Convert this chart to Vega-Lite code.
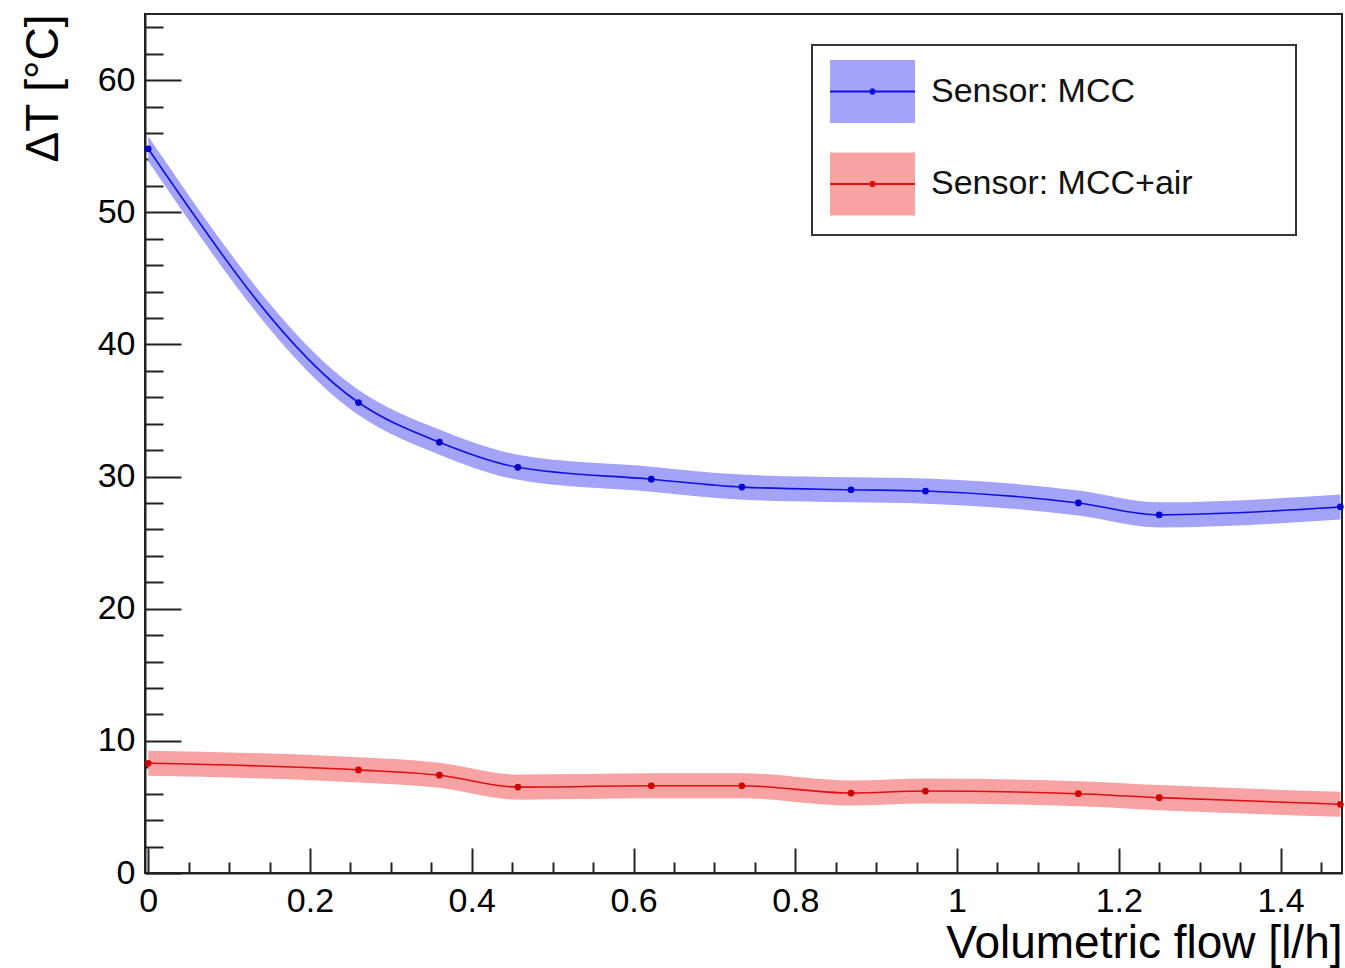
{
  "$schema": "https://vega.github.io/schema/vega-lite/v6.json",
  "autosize": {"type": "none"},
  "width": 1197,
  "height": 859,
  "padding": {"left": 145, "top": 14, "right": 3, "bottom": 95},
  "background": "white",
  "config": {
    "font": "Liberation Sans",
    "view": {"stroke": "#222", "strokeWidth": 2},
    "axis": {"labelFont": "Liberation Sans", "titleFont": "Liberation Sans", "labelColor": "#000", "titleColor": "#000", "tickColor": "#222", "domainColor": "#222", "grid": false},
    "legend": {"labelFont": "Liberation Sans", "strokeWidth": 2}
  },
  "data": {
    "values": [
      {"series": "Sensor: MCC", "flow": 0.0, "dt": 54.8, "lo": 53.85, "hi": 55.75},
      {"series": "Sensor: MCC", "flow": 0.26, "dt": 35.6, "lo": 34.65, "hi": 36.55},
      {"series": "Sensor: MCC", "flow": 0.36, "dt": 32.6, "lo": 31.65, "hi": 33.55},
      {"series": "Sensor: MCC", "flow": 0.457, "dt": 30.7, "lo": 29.75, "hi": 31.65},
      {"series": "Sensor: MCC", "flow": 0.622, "dt": 29.8, "lo": 28.85, "hi": 30.75},
      {"series": "Sensor: MCC", "flow": 0.734, "dt": 29.2, "lo": 28.25, "hi": 30.15},
      {"series": "Sensor: MCC", "flow": 0.869, "dt": 29.0, "lo": 28.05, "hi": 29.95},
      {"series": "Sensor: MCC", "flow": 0.961, "dt": 28.9, "lo": 27.95, "hi": 29.85},
      {"series": "Sensor: MCC", "flow": 1.15, "dt": 28.0, "lo": 27.05, "hi": 28.95},
      {"series": "Sensor: MCC", "flow": 1.25, "dt": 27.1, "lo": 26.15, "hi": 28.05},
      {"series": "Sensor: MCC", "flow": 1.474, "dt": 27.7, "lo": 26.75, "hi": 28.65},
      {"series": "Sensor: MCC+air", "flow": 0.0, "dt": 8.3, "lo": 7.35, "hi": 9.25},
      {"series": "Sensor: MCC+air", "flow": 0.26, "dt": 7.8, "lo": 6.85, "hi": 8.75},
      {"series": "Sensor: MCC+air", "flow": 0.36, "dt": 7.4, "lo": 6.45, "hi": 8.35},
      {"series": "Sensor: MCC+air", "flow": 0.457, "dt": 6.5, "lo": 5.55, "hi": 7.45},
      {"series": "Sensor: MCC+air", "flow": 0.622, "dt": 6.6, "lo": 5.65, "hi": 7.55},
      {"series": "Sensor: MCC+air", "flow": 0.734, "dt": 6.6, "lo": 5.65, "hi": 7.55},
      {"series": "Sensor: MCC+air", "flow": 0.869, "dt": 6.05, "lo": 5.1, "hi": 7.0},
      {"series": "Sensor: MCC+air", "flow": 0.961, "dt": 6.2, "lo": 5.25, "hi": 7.15},
      {"series": "Sensor: MCC+air", "flow": 1.15, "dt": 6.0, "lo": 5.05, "hi": 6.95},
      {"series": "Sensor: MCC+air", "flow": 1.25, "dt": 5.7, "lo": 4.75, "hi": 6.65},
      {"series": "Sensor: MCC+air", "flow": 1.474, "dt": 5.2, "lo": 4.25, "hi": 6.15}
    ]
  },
  "resolve": {"axis": {"x": "independent", "y": "independent"}},
  "layer": [
    {
      "mark": {"type": "area", "interpolate": "monotone", "opacity": 1},
      "encoding": {
        "x": {"field": "flow", "type": "quantitative",
          "scale": {"domain": [-0.004, 1.476], "nice": false, "zero": false},
          "axis": {"orient": "bottom", "title": "Volumetric flow [l/h]", "values": [0, 0.2, 0.4, 0.6, 0.8, 1, 1.2, 1.4], "format": "~g",
            "tickSize": -25, "tickWidth": 2, "labelPadding": 36, "labelFontSize": 34, "labelAngle": 0,
            "domainWidth": 2, "titleFontSize": 46, "titleFontWeight": "normal", "titleAnchor": "end", "titleAlign": "right", "titlePadding": 3, "labelFlush": false, "labelOverlap": false}},
        "y": {"field": "lo", "type": "quantitative",
          "scale": {"domain": [0, 65], "nice": false, "zero": false},
          "axis": {"orient": "left", "title": "ΔT [°C]", "values": [0, 10, 20, 30, 40, 50, 60],
            "tickSize": -36, "tickWidth": 2, "labelPadding": 46, "labelFontSize": 34,
            "domainWidth": 2, "titleFontSize": 46, "titleFontWeight": "normal", "titleAnchor": "end", "titlePadding": 30, "labelFlush": false, "labelOverlap": false}},
        "y2": {"field": "hi"},
        "fill": {"field": "series", "type": "nominal",
          "scale": {"domain": ["Sensor: MCC", "Sensor: MCC+air"], "range": ["#a3a3f8", "#f8a3a3"]},
          "legend": {"orient": "none", "legendX": 667, "legendY": 31, "title": null,
            "symbolType": "M-1.393,-1.033H1.393V1.033H-1.393Z", "symbolSize": 3721, "symbolStrokeWidth": 2, "symbolStrokeColor": "transparent", "symbolOpacity": 1, "symbolOffset": 14,
            "labelFontSize": 34, "labelColor": "#111", "labelOffset": 27, "rowPadding": 19.5, "padding": 15,
            "labelExpr": "datum.label + '\u00a0\u00a0\u00a0\u00a0\u00a0\u00a0\u00a0\u00a0\u00a0\u200a\u200b'",
            "strokeColor": "#333", "fillColor": "white", "labelLimit": 1000}}
      }
    },
    {
      "mark": {"type": "line", "interpolate": "monotone", "strokeWidth": 1.6},
      "encoding": {
        "x": {"field": "flow", "type": "quantitative",
          "axis": {"orient": "bottom", "values": [0.05, 0.1, 0.15, 0.25, 0.3, 0.35, 0.45, 0.5, 0.55, 0.65, 0.7, 0.75, 0.85, 0.9, 0.95, 1.05, 1.1, 1.15, 1.25, 1.3, 1.35, 1.45],
            "tickSize": -11, "tickWidth": 2, "labels": false, "domain": false, "title": null}},
        "y": {"field": "dt", "type": "quantitative",
          "axis": {"orient": "left", "values": [2, 4, 6, 8, 12, 14, 16, 18, 22, 24, 26, 28, 32, 34, 36, 38, 42, 44, 46, 48, 52, 54, 56, 58, 62, 64],
            "tickSize": -18, "tickWidth": 2, "labels": false, "domain": false, "title": null}},
        "stroke": {"field": "series", "type": "nominal",
          "scale": {"range": ["#1010e0", "#e01010"]},
          "legend": {"orient": "none", "legendX": 667, "legendY": 31, "title": null,
            "symbolType": "M-1.393,-1.033M1.393,1.033M-1.393,0H1.393M0.07,0A0.07,0.07 0 1,1 -0.07,0A0.07,0.07 0 1,1 0.07,0",
            "symbolSize": 3721, "symbolStrokeWidth": 2, "symbolFillColor": "transparent", "symbolOffset": 14,
            "labelFontSize": 34, "labelExpr": "''", "labelOffset": 27, "rowPadding": 19.5, "padding": 15, "labelLimit": 1000,
            "strokeColor": "transparent", "fillColor": "transparent"}}
      }
    },
    {
      "mark": {"type": "point", "filled": true, "size": 45, "opacity": 1},
      "encoding": {
        "x": {"field": "flow", "type": "quantitative", "axis": null},
        "y": {"field": "dt", "type": "quantitative", "axis": null},
        "color": {"field": "series", "type": "nominal", "scale": {"range": ["#0000d0", "#d00000"]}, "legend": null}
      }
    }
  ]
}
